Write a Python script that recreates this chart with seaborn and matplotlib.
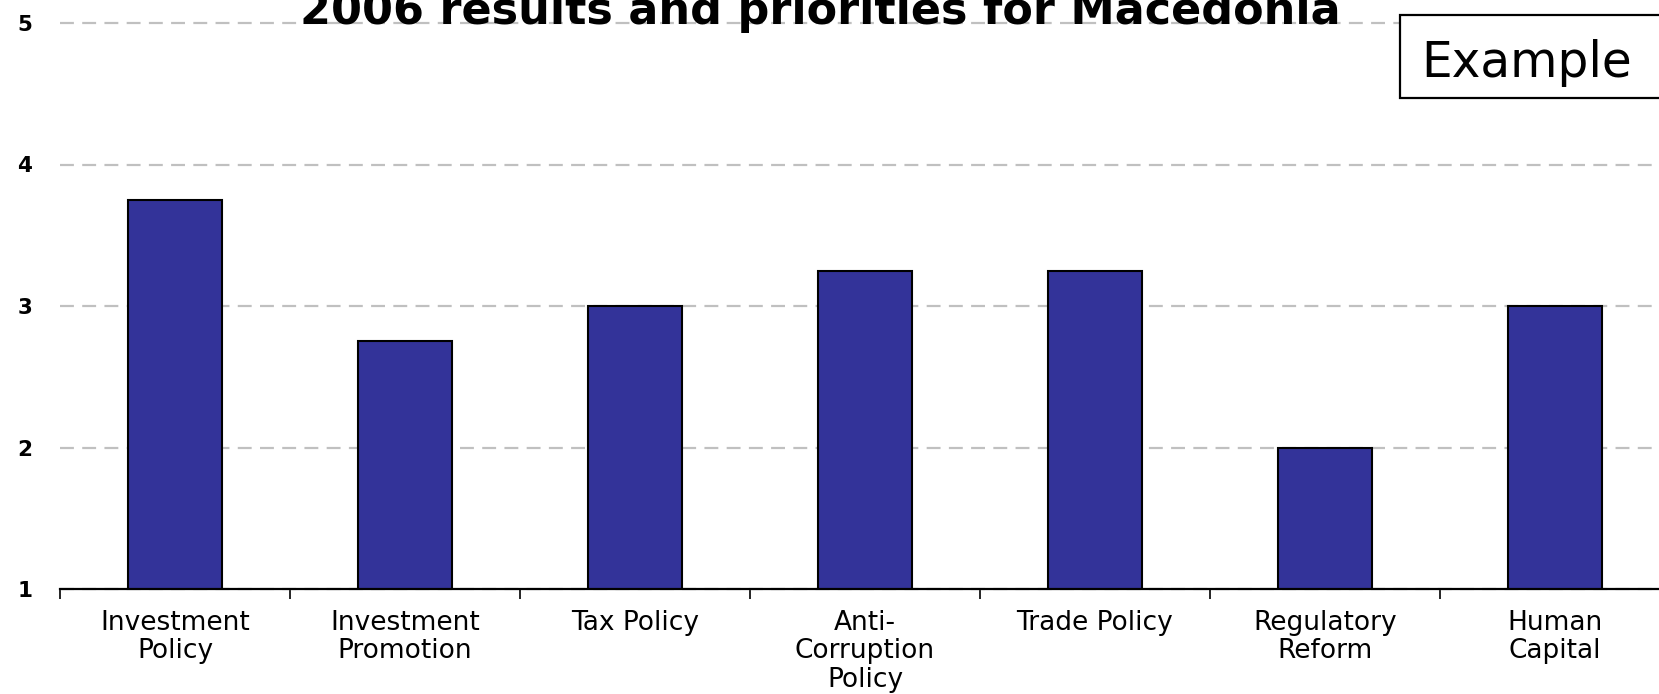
import matplotlib
matplotlib.use("Agg")
import matplotlib.pyplot as plt
import seaborn as sns
from matplotlib.patches import Rectangle

categories = ["Investment\nPolicy", "Investment\nPromotion", "Tax Policy",
              "Anti-\nCorruption\nPolicy", "Trade Policy", "Regulatory\nReform",
              "Human\nCapital"]
scores = [3.75, 2.75, 3.0, 3.25, 3.25, 2.0, 3.0]
y_ticks = [1, 2, 3, 4, 5]
title_text = "2006 results and priorities for Macedonia"
box_text = "Example"

sns.set_theme(style="white")
plt.rcParams["font.family"] = ["DejaVu Sans"]
plt.rcParams["lines.scale_dashes"] = False

W, H = 1659, 694
fig = plt.figure(figsize=(W / 100, H / 100), dpi=100)
fig.patch.set_facecolor("white")

ax_left, ax_right = 60, 1670
ax_bottom, ax_top = 589, 23
ax = fig.add_axes([ax_left / W, (H - ax_bottom) / H,
                   (ax_right - ax_left) / W, (ax_bottom - ax_top) / H])

sns.barplot(x=categories, y=scores, color="#333399", edgecolor="black",
            linewidth=1.5, width=0.41, saturation=1, ax=ax)
for p in ax.patches:
    p.set_facecolor("#333399")

ax.set_ylim(1, 5)
ax.set_xlim(-0.5, len(categories) - 0.5)
ax.set_yticks(y_ticks)
ax.set_yticklabels([str(v) for v in y_ticks], fontsize=15.5, fontweight="bold",
                   color="black")
ax.tick_params(axis="y", length=0, pad=20)

ax.set_axisbelow(True)
ax.yaxis.grid(True, color="#c0c0c0", linestyle=(0, (10, 6)), linewidth=1.6)
ax.xaxis.grid(False)
for gl in ax.get_ygridlines():
    gl.set_clip_on(False)

for s in ["left", "right", "top"]:
    ax.spines[s].set_visible(False)
ax.spines["bottom"].set_color("black")
ax.spines["bottom"].set_linewidth(1.6)

ax.set_xticks(range(len(categories)))
ax.set_xticklabels(categories, fontsize=19, color="black", linespacing=1.12)
ax.tick_params(axis="x", which="major", length=0, pad=15)
ax.set_xticks([i - 0.5 for i in range(len(categories) + 1)], minor=True)
ax.tick_params(axis="x", which="minor", length=7, width=1.2, color="black",
               direction="out", bottom=True)
ax.set_xlabel("")
ax.set_ylabel("")

fig.text(820 / W, (H - 24) / H, title_text, ha="center", va="baseline",
         fontsize=32, fontweight="bold", color="black")

box = Rectangle((1400 / W, (H - 98) / H), 0.2, (98 - 15) / H,
                transform=fig.transFigure, facecolor="white",
                edgecolor="black", linewidth=1.6, clip_on=False)
fig.patches.append(box)
fig.text(1421 / W, (H - 77) / H, box_text, ha="left", va="baseline",
         fontsize=35, color="black")

fig.savefig("out.png", dpi=100)
